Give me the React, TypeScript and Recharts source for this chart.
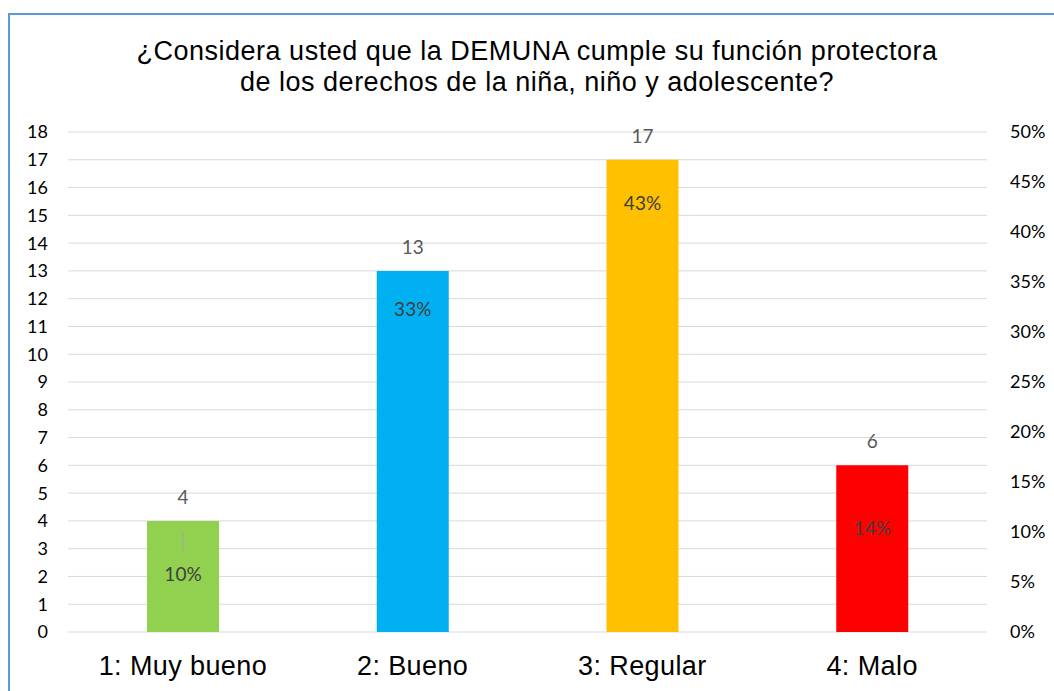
import React from "react"
import {
  ComposedChart,
  Bar,
  Line,
  XAxis,
  YAxis,
  CartesianGrid,
  LabelList,
  Cell,
} from "recharts"

const CATEGORIES = ["1: Muy bueno", "2: Bueno", "3: Regular", "4: Malo"]
const COUNTS = [4, 13, 17, 6]
const PCT_VALUES = [0.1, 0.33, 0.43, 0.14]
const PCT_LABELS = ["10%", "33%", "43%", "14%"]
const LEFT_TICKS = [0, 1, 2, 3, 4, 5, 6, 7, 8, 9, 10, 11, 12, 13, 14, 15, 16, 17, 18]
const RIGHT_TICKS = [0, 0.05, 0.1, 0.15, 0.2, 0.25, 0.3, 0.35, 0.4, 0.45, 0.5]

const BAR_COLORS = ["#92d050", "#00b0f0", "#ffc000", "#ff0000"]
// where Excel dropped each percentage label, measured down from the bar top
const PCT_DY = [60, 45, 50, 70]

const data = CATEGORIES.map((name, i) => ({
  name,
  count: COUNTS[i],
  share: PCT_VALUES[i],
  pct: PCT_LABELS[i],
}))

const NUM_FONT = "Lato, 'Open Sans', sans-serif"
const ARIAL = "'Liberation Sans', Arial, sans-serif"

function PctLabel(props: any) {
  const { x, y, width, index, value } = props
  const cx = Number(x) + Number(width) / 2
  const top = Number(y)
  return (
    <g>
      {index === 0 && (
        <line x1={cx} x2={cx} y1={top + 11} y2={top + 32} stroke="#a6a6a6" strokeWidth={1} />
      )}
      <text
        x={cx}
        y={top + PCT_DY[index]}
        textAnchor="middle"
        fill="#404040"
        fontSize={19}
        fontFamily={NUM_FONT}
      >
        {value}
      </text>
    </g>
  )
}

export default function App() {
  return (
    <div
      style={{
        position: "absolute",
        left: 0,
        top: 0,
        width: 1054,
        height: 691,
        overflow: "hidden",
        background: "#fff",
      }}
    >
      <div
        style={{
          position: "absolute",
          left: 8,
          top: 13,
          width: 1120,
          height: 720,
          border: "2px solid #5b9bd5",
          boxSizing: "border-box",
        }}
      />
      <div
        style={{
          position: "absolute",
          left: 10,
          top: 36,
          width: 1054,
          textAlign: "center",
          fontFamily: ARIAL,
          fontSize: 27,
          letterSpacing: 0.5,
          lineHeight: "31px",
          color: "#000",
        }}
      >
        ¿Considera usted que la DEMUNA cumple su función protectora
        <br />
        de los derechos de la niña, niño y adolescente?
      </div>
      <div style={{ position: "absolute", left: 0, top: 0 }}>
        <ComposedChart
          width={1054}
          height={691}
          data={data}
          margin={{ top: 132, right: 0, bottom: 0, left: 0 }}
          barSize={72}
        >
          <CartesianGrid vertical={false} stroke="#d9d9d9" yAxisId="left" />
          <XAxis
            dataKey="name"
            height={59}
            axisLine={false}
            tickLine={false}
            tickSize={0}
            tickMargin={24}
            tick={{ fontSize: 27, fill: "#000", fontFamily: ARIAL, letterSpacing: 0.4 }}
            interval={0}
          />
          <YAxis
            yAxisId="left"
            width={68}
            domain={[0, 18]}
            ticks={LEFT_TICKS}
            interval={0}
            axisLine={false}
            tickLine={false}
            tickSize={0}
            tickMargin={20}
            tick={{ fontSize: 18, fill: "#000", fontFamily: NUM_FONT }}
          />
          <YAxis
            yAxisId="right"
            orientation="right"
            width={67}
            domain={[0, 0.5]}
            ticks={RIGHT_TICKS}
            interval={0}
            axisLine={false}
            tickLine={false}
            tickSize={0}
            tickMargin={23}
            tickFormatter={(v: number) => `${Math.round(v * 100)}%`}
            tick={{ fontSize: 18, fill: "#000", fontFamily: NUM_FONT }}
          />
          <Bar dataKey="count" yAxisId="left" isAnimationActive={false}>
            {data.map((row, i) => (
              <Cell key={row.name} fill={BAR_COLORS[i]} />
            ))}
            <LabelList
              dataKey="count"
              position="top"
              offset={17}
              fill="#595959"
              fontSize={19}
              fontFamily={NUM_FONT}
            />
            <LabelList dataKey="pct" content={<PctLabel />} />
          </Bar>
          {/* invisible series so the % axis gets drawn */}
          <Line
            dataKey="share"
            yAxisId="right"
            stroke="none"
            dot={false}
            activeDot={false}
            legendType="none"
            isAnimationActive={false}
          />
        </ComposedChart>
      </div>
    </div>
  )
}
